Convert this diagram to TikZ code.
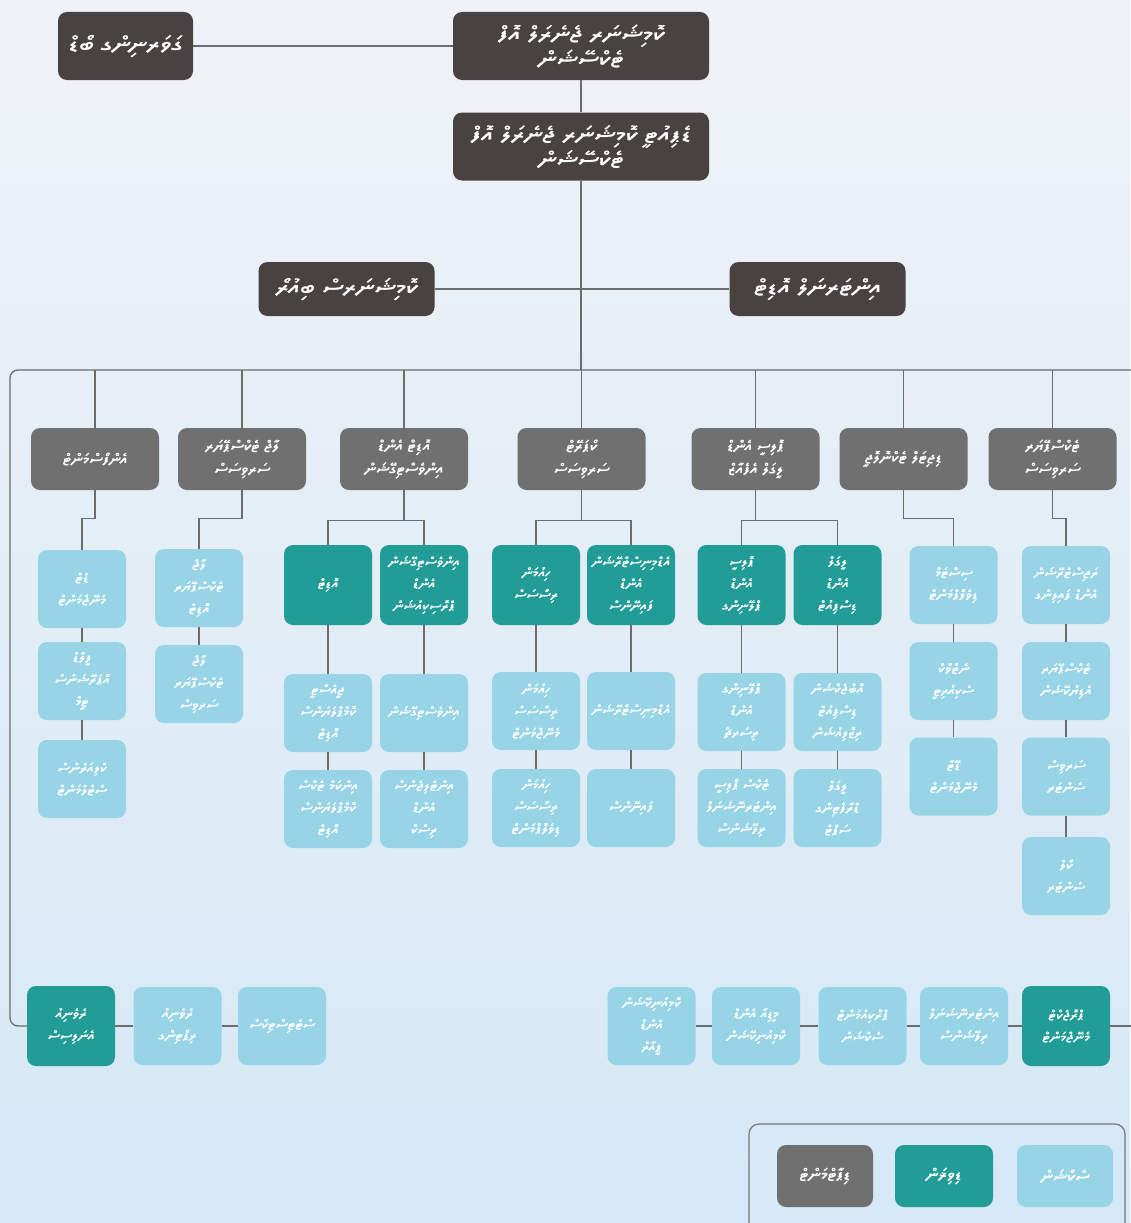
\documentclass[tikz,border=0pt]{standalone}
\usepackage{fontspec}
\TeXXeTstate=1
\newcommand\mkth[1]{%
 \newfontfamily\thA[Script=Thaana,FakeBold=1.4,FakeStretch=1.3]{#1}%
 \newfontfamily\thB[Script=Thaana,FakeBold=1.4,FakeStretch=1.15]{#1}%
 \newfontfamily\thC[Script=Thaana,FakeBold=1.4,FakeStretch=1.2]{#1}}
\IfFontExistsTF{Noto Sans Thaana}{\mkth{Noto Sans Thaana}}
 {\IfFontExistsTF{FreeSerif}{\mkth{FreeSerif}}{\mkth{DejaVu Sans}}}
\newcommand\dv[1]{\beginR #1\endR}
\definecolor{bgtop}{RGB}{239,242,246}
\definecolor{bgbot}{RGB}{213,232,246}
\definecolor{cdark}{RGB}{72,66,65}
\definecolor{cdept}{RGB}{112,112,112}
\definecolor{cteal}{RGB}{34,156,151}
\definecolor{clight}{RGB}{150,212,230}
\definecolor{cline}{RGB}{108,108,108}
\definecolor{cframe}{RGB}{120,120,120}
\begin{document}
\begin{tikzpicture}[x=1pt,y=-1pt,
  conn/.style={draw=cline,line width=1.3pt},
  box/.style={rectangle,rounded corners=9pt,text=white,align=center,inner sep=1pt},
  exec/.style={box,fill=cdark,minimum width=256pt,minimum height=68pt,font=\thA\fontsize{21}{25}\selectfont},
  execsmall/.style={box,fill=cdark,minimum width=135pt,minimum height=68pt,font=\thA\fontsize{21}{25}\selectfont},
  midbox/.style={box,fill=cdark,minimum width=176pt,minimum height=54pt,font=\thA\fontsize{21}{25}\selectfont},
  dept/.style={box,fill=cdept,minimum width=128pt,minimum height=62pt,font=\thB\fontsize{15}{23}\selectfont},
  divbox/.style={box,fill=cteal,minimum width=88pt,minimum height=80pt,font=\thC\fontsize{13}{22}\selectfont},
  secbox/.style={box,fill=clight,minimum width=88pt,minimum height=78pt,font=\thC\fontsize{13}{22}\selectfont},
  legbox/.style={box,minimum width=96pt,minimum height=62pt,font=\thB\fontsize{16}{22}\selectfont}]
\useasboundingbox (0,0) rectangle (1130,1223);
\shade[top color=bgtop,bottom color=bgbot] (0,0) rectangle (1130,1223);
\coordinate (bus) at (0,370);
% executive level
\node[execsmall] (tl) at (125.5,46) {\dv{ގަވަރނިންގ ބޯޑް}};
\node[exec] (cg) at (581,46) {\dv{ކޮމިޝަނަރ ޖެނެރަލް އޮފް}\\\dv{ޓެކްސޭޝަން}};
\node[exec] (dcg) at (581,146.5) {\dv{ޑެޕިއުޓީ ކޮމިޝަނަރ ޖެނެރަލް އޮފް}\\\dv{ޓެކްސޭޝަން}};
\node[midbox] (ml) at (346.5,289) {\dv{ކޮމިޝަނަރސް ބިއުރޯ}};
\node[midbox] (mr) at (817.5,289) {\dv{އިންޓަރނަލް އޮޑިޓް}};
% departments
\node[dept] (d1) at (95,459) {\dv{އެންފޯސްމަންޓް}};
\node[dept] (d2) at (242,459) {\dv{ލާޖް ޓެކްސްޕޭޔަރ}\\\dv{ސަރވިސަސް}};
\node[dept] (d3) at (404,459) {\dv{އޮޑިޓް އެންޑް}\\\dv{އިންވެސްޓިގޭޝަން}};
\node[dept] (d4) at (581.5,459) {\dv{ކޯޕަރޭޓް}\\\dv{ސަރވިސަސް}};
\node[dept] (d5) at (755.5,459) {\dv{ޕޮލިސީ އެންޑް}\\\dv{ލީގަލް އެފެއާޒް}};
\node[dept] (d6) at (903.5,459) {\dv{ޑިޖިޓަލް ޓެކްނޮލޮޖީ}};
\node[dept] (d7) at (1052.5,459) {\dv{ޓެކްސްޕޭޔަރ}\\\dv{ސަރވިސަސް}};
% column A
\node[secbox] (a1) at (82,589) {\dv{ޑެޓް}\\\dv{މެނޭޖްމަންޓް}};
\node[secbox] (a2) at (82,681) {\dv{ފީލްޑް}\\\dv{އޮޕަރޭޝަންސް}\\\dv{ޓީމް}};
\node[secbox] (a3) at (82,779) {\dv{ކްލިއަރެންސް}\\\dv{ސެޓްލްމަންޓް}};
% column B
\node[secbox] (b1) at (199,588) {\dv{ލާޖް}\\\dv{ޓެކްސްޕޭޔަރ}\\\dv{އޮޑިޓް}};
\node[secbox] (b2) at (199,684) {\dv{ލާޖް}\\\dv{ޓެކްސްޕޭޔަރ}\\\dv{ސަރވިސް}};
% audit & investigation
\node[divbox] (t1) at (328,585) {\dv{އޮޑިޓް}};
\node[divbox] (t2) at (424,585) {\dv{އިންވެސްޓިގޭޝަން}\\\dv{އެންޑް}\\\dv{ޕްރޮސިކިއުޝަން}};
\node[secbox] (c1) at (328,713) {\dv{ޖީއެސްޓީ}\\\dv{ކޮމްޕްލަޔަންސް}\\\dv{އޮޑިޓް}};
\node[secbox] (c2) at (328,809) {\dv{އިންކަމް ޓެކްސް}\\\dv{ކޮމްޕްލަޔަންސް}\\\dv{އޮޑިޓް}};
\node[secbox] (c3) at (424,713) {\dv{އިންވެސްޓިގޭޝަން}};
\node[secbox] (c4) at (424,809) {\dv{އިންޓެލިޖެންސް}\\\dv{އެންޑް}\\\dv{ރިސްކް}};
% corporate services
\node[divbox] (t3) at (536,585) {\dv{ހިއުމަން}\\\dv{ރިސޯސަސް}};
\node[divbox] (t4) at (631,585) {\dv{އެޑްމިނިސްޓްރޭޝަން}\\\dv{އެންޑް}\\\dv{ފައިނޭންސް}};
\node[secbox] (c5) at (536,711) {\dv{ހިއުމަން}\\\dv{ރިސޯސަސް}\\\dv{މެނޭޖްމަންޓް}};
\node[secbox] (c6) at (536,808) {\dv{ހިއުމަން}\\\dv{ރިސޯސަސް}\\\dv{ޑިވެލޮޕްމަންޓް}};
\node[secbox] (c7) at (631,711) {\dv{އެޑްމިނިސްޓްރޭޝަން}};
\node[secbox] (c8) at (631,808) {\dv{ފައިނޭންސް}};
% policy & legal
\node[divbox] (t5) at (741.5,585) {\dv{ޕޮލިސީ}\\\dv{އެންޑް}\\\dv{ޕްލޭނިންގ}};
\node[divbox] (t6) at (837.5,585) {\dv{ލީގަލް}\\\dv{އެންޑް}\\\dv{ޑިސްޕިއުޓް}};
\node[secbox] (c9) at (741.5,712) {\dv{ޕްލޭނިންގ}\\\dv{އެންޑް}\\\dv{ރިސަރޗް}};
\node[secbox] (c10) at (741.5,808) {\dv{ޓެކްސް ޕޮލިސީ}\\\dv{އިންޓަރނޭޝަނަލް}\\\dv{ރިލޭޝަންސް}};
\node[secbox] (c11) at (837.5,712) {\dv{އޮބްޖެކްޝަން}\\\dv{ޑިސްޕިއުޓް}\\\dv{ރިޒޮލިއުޝަން}};
\node[secbox] (c12) at (837.5,808) {\dv{ލީގަލް}\\\dv{ޑްރާފްޓިންގ}\\\dv{ސަޕޯޓް}};
% IT
\node[secbox] (e1) at (953.5,585) {\dv{ސިސްޓަމް}\\\dv{ޑިވެލޮޕްމަންޓް}};
\node[secbox] (e2) at (953.5,681) {\dv{ނެޓްވޯކް}\\\dv{ސެކިއުރިޓީ}};
\node[secbox] (e3) at (953.5,776.5) {\dv{ޑޭޓާ}\\\dv{މެނޭޖްމަންޓް}};
% taxpayer services
\node[secbox] (f1) at (1066,585) {\dv{ރަޖިސްޓްރޭޝަން}\\\dv{އެންޑް ފައިލިންގ}};
\node[secbox] (f2) at (1066,681) {\dv{ޓެކްސްޕޭޔަރ}\\\dv{އެޑިޔުކޭޝަން}};
\node[secbox] (f3) at (1066,776.5) {\dv{ސަރވިސް}\\\dv{ސެންޓަރ}};
\node[secbox] (f4) at (1066,876) {\dv{ކޯލް}\\\dv{ސެންޓަރ}};
% bottom rows
\node[divbox] (bl1) at (71,1026) {\dv{ރެވެނިއު}\\\dv{އެނަލިސިސް}};
\node[secbox] (bl2) at (177.5,1026) {\dv{ރެވެނިއު}\\\dv{ރިޕޯޓިންގ}};
\node[secbox] (bl3) at (282,1026) {\dv{ސްޓެޓިސްޓިކްސް}};
\node[secbox] (br1) at (651.5,1026) {\dv{ކޮމިއުނިކޭޝަން}\\\dv{އެންޑް}\\\dv{ޕީއާރް}};
\node[secbox] (br2) at (756,1026) {\dv{މީޑިއާ އެންޑް}\\\dv{ކޮމިއުނިކޭޝަން}};
\node[secbox] (br3) at (862.5,1026) {\dv{ޕްރޮކިއުމަންޓް}\\\dv{ސެކްޝަން}};
\node[secbox] (br4) at (964,1026) {\dv{އިންޓަރނޭޝަނަލް}\\\dv{ރިލޭޝަންސް}};
\node[divbox] (br5) at (1066,1026) {\dv{ޕްރޮޖެކްޓް}\\\dv{މެނޭޖްމަންޓް}};
\coordinate (rend) at (1131,1026);
% legend
\draw[cframe,line width=1.2pt,rounded corners=10pt] (749,1124) rectangle (1125,1240);
\node[legbox,fill=cdept] (lg1) at (825,1176) {\dv{ޑިޕާޓްމަންޓް}};
\node[legbox,fill=cteal,minimum width=98pt] (lg2) at (944,1176) {\dv{ޑިވިޜަން}};
\node[legbox,fill=clight] (lg3) at (1065,1176) {\dv{ސެކްޝަން}};
% connectors
\draw[conn] (tl.east) -- (cg.west);
\draw[conn] (cg.south) -- (dcg.north);
\draw[conn] (dcg.south) -- (dcg.south |- bus);
\draw[conn] (ml.east) -- (mr.west);
\draw[conn,rounded corners=8pt] (1131,370) -- (10,370) -- (10,1026) -- (bl1.west);
\foreach \n in {d1,d2,d3,d4,d5,d6,d7} \draw[conn] (\n.north) -- (\n.north |- bus);
\draw[conn] (d1.south) -- ++(0,28) -| (a1.north);
\draw[conn] (a1.south) -- (a2.north);
\draw[conn] (a2.south) -- (a3.north);
\draw[conn] (d2.south) -- ++(0,28) -| (b1.north);
\draw[conn] (b1.south) -- (b2.north);
\draw[conn] (d3.south) -- ++(0,30) coordinate (j3);
\draw[conn] (t1.north) |- (j3) -| (t2.north);
\draw[conn] (t1.south) -- (c1.north);
\draw[conn] (c1.south) -- (c2.north);
\draw[conn] (t2.south) -- (c3.north);
\draw[conn] (c3.south) -- (c4.north);
\draw[conn] (d4.south) -- ++(0,30) coordinate (j4);
\draw[conn] (t3.north) |- (j4) -| (t4.north);
\draw[conn] (t3.south) -- (c5.north);
\draw[conn] (c5.south) -- (c6.north);
\draw[conn] (t4.south) -- (c7.north);
\draw[conn] (c7.south) -- (c8.north);
\draw[conn] (d5.south) -- ++(0,30) coordinate (j5);
\draw[conn] (t5.north) |- (j5) -| (t6.north);
\draw[conn] (t5.south) -- (c9.north);
\draw[conn] (c9.south) -- (c10.north);
\draw[conn] (t6.south) -- (c11.north);
\draw[conn] (c11.south) -- (c12.north);
\draw[conn] (d6.south) -- ++(0,28) -| (e1.north);
\draw[conn] (e1.south) -- (e2.north);
\draw[conn] (e2.south) -- (e3.north);
\draw[conn] (d7.south) -- ++(0,28) -| (f1.north);
\draw[conn] (f1.south) -- (f2.north);
\draw[conn] (f2.south) -- (f3.north);
\draw[conn] (f3.south) -- (f4.north);
\draw[conn] (bl1.east) -- (bl2.west);
\draw[conn] (bl2.east) -- (bl3.west);
\draw[conn] (br1.east) -- (br2.west);
\draw[conn] (br2.east) -- (br3.west);
\draw[conn] (br3.east) -- (br4.west);
\draw[conn] (br4.east) -- (br5.west);
\draw[conn] (br5.east) -- (rend);
\end{tikzpicture}
\end{document}
